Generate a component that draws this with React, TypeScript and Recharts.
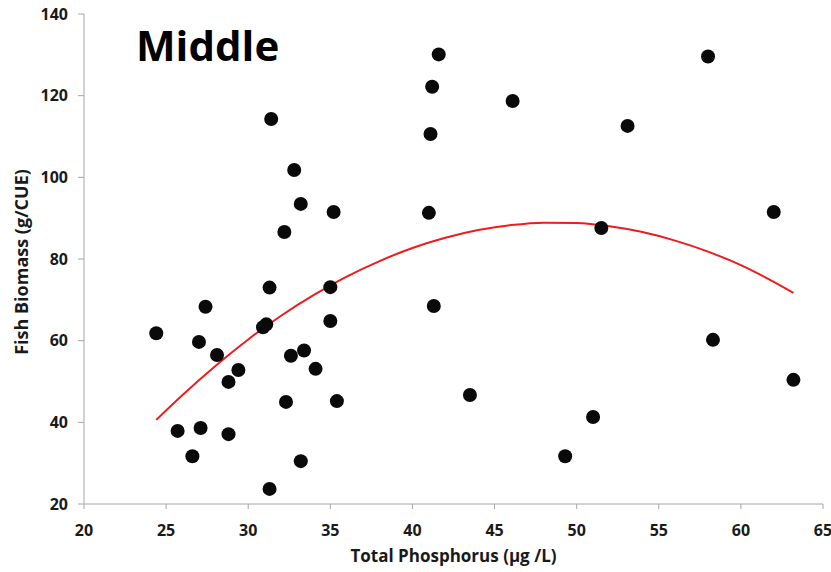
import React from 'react';
import { ComposedChart, Scatter, Line, XAxis, YAxis, Label } from 'recharts';

// observed points (total phosphorus µg/L, fish biomass g/CUE)
const phosphorus = [
  24.4, 25.7, 26.6, 27.0, 27.1, 27.4, 28.1, 28.8, 28.8, 29.4,
  30.9, 31.1, 31.3, 31.3, 31.4, 32.2, 32.3, 32.6, 32.8, 33.2,
  33.2, 33.4, 34.1, 35.0, 35.0, 35.2, 35.4, 41.6, 41.2, 41.1,
  41.0, 41.3, 43.5, 46.1, 49.3, 51.0, 51.5, 53.1, 58.0, 58.3,
  62.0, 63.2,
];
const biomass = [
  61.8, 37.9, 31.7, 59.7, 38.6, 68.3, 56.5, 37.1, 49.9, 52.8,
  63.3, 64.0, 23.7, 73.0, 114.3, 86.6, 45.0, 56.3, 101.8, 30.5,
  93.5, 57.6, 53.1, 73.1, 64.8, 91.5, 45.2, 130.1, 122.2, 110.6,
  91.3, 68.5, 46.7, 118.7, 31.7, 41.3, 87.6, 112.6, 129.6, 60.2,
  91.5, 50.4,
];

// fitted trend line
const trendX = [24.4, 26, 28, 30, 32, 34, 36, 38, 40, 42, 44, 46, 48, 50, 52, 54, 56, 58, 60, 62, 63.2];
const trendY = [40.6, 46.7, 53.8, 60.3, 66.1, 71.2, 75.7, 79.5, 82.7, 85.2, 87.1, 88.3, 88.9, 88.8, 88.0, 86.6, 84.5, 81.8, 78.5, 74.4, 71.7];

const xTicks = [20, 25, 30, 35, 40, 45, 50, 55, 60, 65];
const yTicks = [20, 40, 60, 80, 100, 120, 140];

const points = phosphorus.map((x, i) => ({ x, y: biomass[i] }));
const trend = trendX.map((x, i) => ({ x, y: trendY[i] }));

const FONT = '"Open Sans", sans-serif';
const tickStyle = { fill: '#1a1a1a', fontSize: 16, fontWeight: 700, fontFamily: FONT };

const Dot = (props: any) => <circle cx={props.cx} cy={props.cy} r={7} fill="#0a0a0a" />;

export default function App() {
  return (
    <div style={{ position: 'absolute', left: 0, top: 0, width: 831, height: 572, background: '#fff' }}>
      <ComposedChart width={831} height={572} margin={{ top: 14, right: 8, bottom: 0, left: 0 }}>
        <XAxis
          type="number"
          dataKey="x"
          domain={[20, 65]}
          ticks={xTicks}
          allowDataOverflow
          stroke="#a6a6a6"
          tickSize={5}
          tickMargin={16}
          height={68}
          tick={tickStyle}
        >
          <Label
            value="Total Phosphorus (µg /L)"
            position="insideBottom"
            offset={10}
            style={{ fill: '#1a1a1a', fontSize: 17, fontWeight: 700, fontFamily: FONT }}
          />
        </XAxis>
        <YAxis
          type="number"
          dataKey="y"
          domain={[20, 140]}
          ticks={yTicks}
          allowDataOverflow
          stroke="#a6a6a6"
          tickSize={6}
          tickMargin={10}
          width={84}
          tick={tickStyle}
        >
          <Label
            value="Fish Biomass (g/CUE)"
            angle={-90}
            position="center"
            dx={-20}
            dy={3}
            style={{ fill: '#1a1a1a', fontSize: 18, fontWeight: 700, fontFamily: FONT, textAnchor: 'middle' }}
          />
        </YAxis>
        <Line
          data={trend}
          dataKey="y"
          type="monotone"
          stroke="#ee1c1c"
          strokeWidth={2}
          dot={false}
          activeDot={false}
          isAnimationActive={false}
        />
        <Scatter data={points} dataKey="y" shape={Dot} isAnimationActive={false} />
      </ComposedChart>
      <div
        style={{
          position: 'absolute',
          left: 136,
          top: 24,
          fontFamily: FONT,
          fontWeight: 700,
          fontSize: 42,
          lineHeight: 1,
          color: '#000',
        }}
      >
        Middle
      </div>
    </div>
  );
}
